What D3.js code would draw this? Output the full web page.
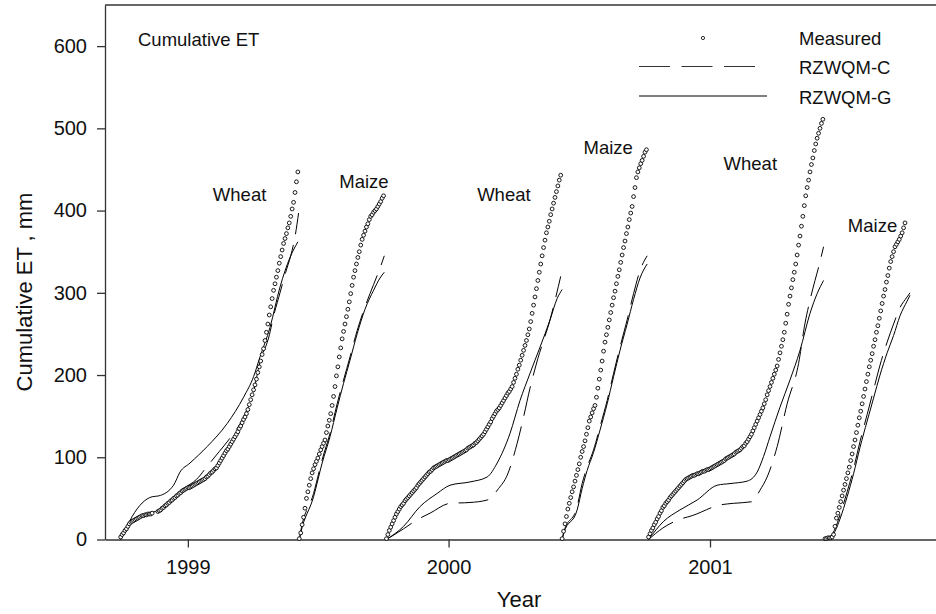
<!DOCTYPE html>
<html>
<head>
<meta charset="utf-8">
<script src="https://cdn.jsdelivr.net/npm/d3@7"></script>
<style>
  body { margin: 0; background: #fff; }
  svg text { font-family: "Liberation Sans", Arial, Helvetica, sans-serif; fill: #111; }
  .axis path, .axis line { stroke: #333; stroke-width: 1.3px; }
  .axis text { font-size: 20px; }
  .note { font-size: 18.5px; }
  .axis-label { font-size: 22px; }
</style>
</head>
<body>
<svg id="chart" width="936" height="614"></svg>
<script>
// days are counted from 1 Jan 1999 (negative = autumn 1998)
const measuredStep = 2;

// measured cumulative ET (mm), one value every 2 days
const measuredWheat99Start = -94;
const measuredWheat99 = [3,6,8,11,13,16,19,21,22,23,24,25,26,27,28,29,29,30,30,31,31,31,32,null,null,null,
  34,35,36,38,39,41,42,44,45,47,48,50,51,53,54,56,57,59,60,61,62,63,63,64,65,66,67,68,69,70,71,72,73,74,
  76,77,79,81,82,84,86,87,90,93,96,99,102,105,108,110,113,116,119,122,125,128,131,135,138,142,146,149,153,
  158,164,170,176,182,188,195,203,210,217,225,232,242,252,262,273,283,293,303,311,319,327,336,344,352,360,
  366,372,379,385,393,402,410,422,435,447];

const measuredMaize99Start = 156;
const measuredMaize99 = [1,8,18,27,38,50,58,66,74,81,86,91,95,99,104,109,113,117,121,130,138,145,153,163,174,
  186,199,210,222,233,244,253,262,271,280,289,299,309,319,327,335,343,350,358,365,370,375,380,384,389,393,
  395,398,400,402,405,408,411,415,418];

const measuredWheat00Start = 278;
const measuredWheat00 = [1,6,11,15,19,23,27,31,34,37,40,42,44,47,49,51,53,55,57,59,61,63,66,68,70,72,74,76,
  78,80,82,83,85,87,88,89,90,91,92,93,94,95,96,96,97,98,99,100,101,102,103,104,105,106,107,108,109,111,112,
  113,114,115,117,118,120,122,124,126,128,131,134,137,140,143,147,150,153,156,158,160,163,166,169,172,175,
  178,180,183,186,191,196,201,207,212,218,224,230,236,242,249,256,265,275,285,295,305,315,325,335,345,355,
  364,373,380,387,395,402,409,416,423,430,437,443];

const measuredMaize00Start = 524;
const measuredMaize00 = [1,10,19,28,37,44,51,58,64,71,78,85,92,100,107,113,120,128,136,144,149,154,159,163,
  173,184,195,206,217,229,240,249,258,267,276,285,294,302,311,320,328,337,346,355,363,372,380,389,397,405,
  417,428,440,447,452,457,461,466,471,474];

const measuredWheat01Start = 645;
const measuredWheat01 = [3,7,11,14,18,21,25,28,32,35,39,41,44,46,48,51,53,55,57,59,61,63,65,67,69,71,73,74,
  75,76,77,78,78,79,80,80,81,82,83,83,84,85,85,86,87,88,89,90,91,92,93,94,95,96,98,99,100,101,102,103,104,
  106,107,108,109,111,113,114,117,119,122,125,128,132,136,140,144,148,152,156,160,165,170,176,181,186,191,
  196,201,206,211,219,227,235,243,252,263,274,286,296,306,316,325,335,346,358,369,381,393,406,418,428,437,
  447,456,464,473,481,488,494,500,506,511];

const measuredMaize01Start = 892;
const measuredMaize01 = [1,1,2,2,2,3,6,16,26,32,39,46,53,60,67,74,81,88,96,104,113,121,130,139,148,156,165,
  174,183,192,201,210,218,226,235,243,252,260,269,278,287,296,304,313,321,330,338,344,350,356,359,362,365,
  369,373,379,385];

// RZWQM-C (dashed), [day, mm]
const cWheat99 = [[-94,0],[-80,22],[-66,29],[-50,33],[-40,36],[-25,48],[-6,62],[12,73],[28,90],[44,107],[57,121],
  [78,149],[92,180],[101,216],[113,245],[121,275],[129,300],[137,325],[144,345],[150,368],[155,397]];
const cMaize99 = [[156,0],[158,10],[176,56],[188,97],[199,129],[209,165],[218,194],[227,222],[237,254],[248,283],
  [260,310],[269,330],[275,345]];
const cWheat00 = [[278,0],[302,13],[321,24],[339,32],[367,44],[395,45],[419,48],[435,62],[447,78],[461,117],
  [470,149],[479,184],[490,220],[507,267],[522,320]];
const cMaize00 = [[524,0],[526,8],[545,40],[552,68],[559,88],[568,109],[577,137],[587,169],[596,202],[605,234],
  [615,267],[624,299],[633,327],[643,345]];
const cWheat01 = [[645,0],[665,14],[687,24],[706,29],[745,42],[764,44],[790,46],[801,60],[811,76],[825,113],
  [839,165],[855,214],[864,263],[871,291],[878,315],[883,331],[890,356]];
const cMaize01 = [[893,0],[897,1],[906,13],[913,30],[923,58],[932,86],[941,119],[951,152],[960,182],[969,212],
  [979,240],[988,262],[997,282],[1007,295],[1011,300]];

// RZWQM-G (solid), [day, mm]
const gWheat99 = [[-94,0],[-92,3],[-78,28],[-50,52],[-41,53],[-20,66],[-11,82],[3,93],[27,113],[55,141],[78,173],
  [92,198],[101,222],[115,258],[129,307],[143,343],[154,362]];
const gMaize99 = [[156,0],[158,8],[176,52],[188,93],[199,125],[209,160],[218,190],[227,218],[237,250],[248,280],
  [260,303],[269,318],[275,325]];
const gWheat00 = [[278,0],[302,16],[325,40],[349,56],[367,66],[395,70],[419,76],[433,93],[451,129],[465,169],
  [479,202],[507,267],[517,293],[524,304]];
const gMaize00 = [[524,0],[526,7],[545,36],[552,62],[559,84],[568,106],[577,133],[587,165],[596,198],[605,230],
  [615,262],[624,292],[633,318],[643,335]];
const gWheat01 = [[645,0],[666,22],[689,36],[713,48],[741,66],[759,68],[783,71],[797,82],[806,101],[815,125],
  [829,161],[843,194],[857,230],[871,275],[881,299],[890,315]];
const gMaize01 = [[893,0],[897,1],[906,10],[913,25],[923,52],[932,80],[941,112],[951,144],[960,172],[969,200],
  [979,227],[988,248],[997,272],[1007,290],[1011,297]];

const yTicks = [0, 100, 200, 300, 400, 500, 600];
const yearTicks = [1999, 2000, 2001];

// crop names with [day, mm] where the label sits
const cropLabels = [
  { text: "Wheat", day: 35, mm: 412 },
  { text: "Maize", day: 212, mm: 427 },
  { text: "Wheat", day: 405, mm: 412 },
  { text: "Maize", day: 554, mm: 469 },
  { text: "Wheat", day: 750, mm: 449 },
  { text: "Maize", day: 924, mm: 374 }
];

const day0 = new Date(1999, 0, 1);
const toDate = d => d3.timeDay.offset(day0, d);

const svg = d3.select("#chart");
const margin = { top: 5, left: 105, bottom: 539.5, right: 940 };

const x = d3.scaleTime()
  .domain([toDate(-116), toDate(1053)])
  .range([margin.left, margin.right]);

const y = d3.scaleLinear()
  .domain([0, 650])
  .range([margin.bottom, margin.top]);

// axes
svg.append("g")
  .attr("class", "axis")
  .attr("transform", `translate(${margin.left},0)`)
  .call(d3.axisLeft(y).tickValues(yTicks).tickSize(8).tickSizeOuter(0).tickPadding(10));

svg.append("g")
  .attr("class", "axis")
  .attr("transform", `translate(0,${margin.bottom})`)
  .call(d3.axisBottom(x)
    .tickValues(yearTicks.map(yr => new Date(yr, 0, 1)))
    .tickFormat(d3.timeFormat("%Y"))
    .tickSize(8).tickSizeOuter(0).tickPadding(12));

// top frame line
svg.append("line")
  .attr("x1", margin.left).attr("x2", margin.right)
  .attr("y1", margin.top).attr("y2", margin.top)
  .attr("stroke", "#333").attr("stroke-width", 1.3);

svg.append("text")
  .attr("class", "axis-label")
  .attr("text-anchor", "middle")
  .attr("x", 519).attr("y", 607)
  .text("Year");

svg.append("text")
  .attr("class", "axis-label")
  .attr("text-anchor", "middle")
  .attr("transform", "translate(32,292) rotate(-90)")
  .text("Cumulative ET , mm");

const line = d3.line()
  .x(d => x(toDate(d[0])))
  .y(d => y(d[1]))
  .curve(d3.curveMonotoneX);

const cSeries = [cWheat99, cMaize99, cWheat00, cMaize00, cWheat01, cMaize01];
const gSeries = [gWheat99, gMaize99, gWheat00, gMaize00, gWheat01, gMaize01];

svg.append("g").selectAll("path")
  .data(gSeries)
  .join("path")
  .attr("d", line)
  .attr("fill", "none")
  .attr("stroke", "#000")
  .attr("stroke-width", 1);

svg.append("g").selectAll("path")
  .data(cSeries)
  .join("path")
  .attr("d", line)
  .attr("fill", "none")
  .attr("stroke", "#000")
  .attr("stroke-width", 1)
  .attr("stroke-dasharray", "30,11");

const measuredSeasons = [
  [measuredWheat99Start, measuredWheat99],
  [measuredMaize99Start, measuredMaize99],
  [measuredWheat00Start, measuredWheat00],
  [measuredMaize00Start, measuredMaize00],
  [measuredWheat01Start, measuredWheat01],
  [measuredMaize01Start, measuredMaize01]
];

const measuredPoints = measuredSeasons.flatMap(([start, vals]) =>
  vals.map((v, i) => ({ day: start + i * measuredStep, mm: v })).filter(p => p.mm !== null));

svg.append("g").selectAll("circle")
  .data(measuredPoints)
  .join("circle")
  .attr("cx", d => x(toDate(d.day)))
  .attr("cy", d => y(d.mm))
  .attr("r", 1.9)
  .attr("fill", "#fff")
  .attr("stroke", "#000")
  .attr("stroke-width", 0.9);

svg.append("g").selectAll("text")
  .data(cropLabels)
  .join("text")
  .attr("class", "note")
  .attr("x", d => x(toDate(d.day)))
  .attr("y", d => y(d.mm))
  .text(d => d.text);

svg.append("text")
  .attr("class", "note")
  .attr("x", 138).attr("y", 46)
  .text("Cumulative ET");

// legend
const legend = svg.append("g");
legend.append("circle")
  .attr("cx", 703).attr("cy", 38).attr("r", 1.6)
  .attr("fill", "#fff").attr("stroke", "#000").attr("stroke-width", 0.8);
legend.append("line")
  .attr("x1", 639).attr("x2", 755).attr("y1", 66.5).attr("y2", 66.5)
  .attr("stroke", "#333").attr("stroke-width", 1).attr("stroke-dasharray", "31,11.5");
legend.append("line")
  .attr("x1", 639).attr("x2", 767).attr("y1", 96).attr("y2", 96)
  .attr("stroke", "#000").attr("stroke-width", 1);
legend.selectAll("text.note")
  .data(["Measured", "RZWQM-C", "RZWQM-G"])
  .join("text")
  .attr("class", "note")
  .attr("x", 799)
  .attr("y", (d, i) => 45 + i * 29.3)
  .text(d => d);
</script>
</body>
</html>
